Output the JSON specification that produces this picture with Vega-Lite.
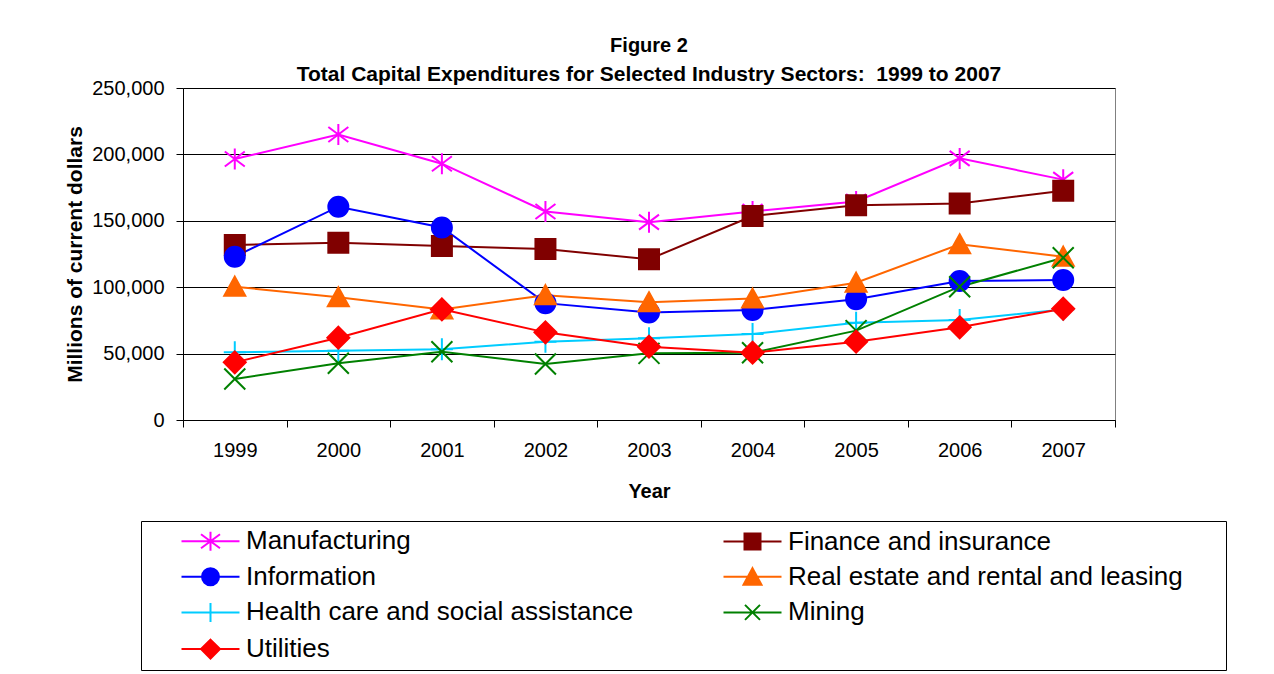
{
  "$schema": "https://vega.github.io/schema/vega-lite/v6.json",
  "width": 932,
  "height": 332,
  "autosize": {"type": "none"},
  "padding": {"left": 183, "top": 88, "right": 159, "bottom": 254},
  "background": "white",
  "title": {
    "text": "Figure 2",
    "subtitle": "Total Capital Expenditures for Selected Industry Sectors:\u00a0 1999 to 2007",
    "font": "Liberation Sans",
    "subtitleFont": "Liberation Sans",
    "fontSize": 20,
    "subtitleFontSize": 21,
    "fontWeight": "bold",
    "subtitleFontWeight": "bold",
    "color": "#000000",
    "subtitleColor": "#000000",
    "anchor": "middle",
    "offset": -7,
    "subtitlePadding": 8
  },
  "data": {
    "values": [
      {"Year": "1999", "Sector": "Manufacturing", "Value": 196500},
      {"Year": "2000", "Sector": "Manufacturing", "Value": 215000},
      {"Year": "2001", "Sector": "Manufacturing", "Value": 193000},
      {"Year": "2002", "Sector": "Manufacturing", "Value": 157000},
      {"Year": "2003", "Sector": "Manufacturing", "Value": 149000},
      {"Year": "2004", "Sector": "Manufacturing", "Value": 157000},
      {"Year": "2005", "Sector": "Manufacturing", "Value": 164500},
      {"Year": "2006", "Sector": "Manufacturing", "Value": 197000},
      {"Year": "2007", "Sector": "Manufacturing", "Value": 181000},
      {"Year": "1999", "Sector": "Finance and insurance", "Value": 131800},
      {"Year": "2000", "Sector": "Finance and insurance", "Value": 133500},
      {"Year": "2001", "Sector": "Finance and insurance", "Value": 131000},
      {"Year": "2002", "Sector": "Finance and insurance", "Value": 128800},
      {"Year": "2003", "Sector": "Finance and insurance", "Value": 121000},
      {"Year": "2004", "Sector": "Finance and insurance", "Value": 153600},
      {"Year": "2005", "Sector": "Finance and insurance", "Value": 161700},
      {"Year": "2006", "Sector": "Finance and insurance", "Value": 163000},
      {"Year": "2007", "Sector": "Finance and insurance", "Value": 172700},
      {"Year": "1999", "Sector": "Information", "Value": 123000},
      {"Year": "2000", "Sector": "Information", "Value": 160600},
      {"Year": "2001", "Sector": "Information", "Value": 145000},
      {"Year": "2002", "Sector": "Information", "Value": 88000},
      {"Year": "2003", "Sector": "Information", "Value": 81000},
      {"Year": "2004", "Sector": "Information", "Value": 82800},
      {"Year": "2005", "Sector": "Information", "Value": 91000},
      {"Year": "2006", "Sector": "Information", "Value": 104700},
      {"Year": "2007", "Sector": "Information", "Value": 105400},
      {"Year": "1999", "Sector": "Real estate and rental and leasing", "Value": 100400},
      {"Year": "2000", "Sector": "Real estate and rental and leasing", "Value": 92400},
      {"Year": "2001", "Sector": "Real estate and rental and leasing", "Value": 83300},
      {"Year": "2002", "Sector": "Real estate and rental and leasing", "Value": 94000},
      {"Year": "2003", "Sector": "Real estate and rental and leasing", "Value": 88600},
      {"Year": "2004", "Sector": "Real estate and rental and leasing", "Value": 91400},
      {"Year": "2005", "Sector": "Real estate and rental and leasing", "Value": 103400},
      {"Year": "2006", "Sector": "Real estate and rental and leasing", "Value": 132300},
      {"Year": "2007", "Sector": "Real estate and rental and leasing", "Value": 123000},
      {"Year": "1999", "Sector": "Health care and social assistance", "Value": 51000},
      {"Year": "2000", "Sector": "Health care and social assistance", "Value": 52200},
      {"Year": "2001", "Sector": "Health care and social assistance", "Value": 53200},
      {"Year": "2002", "Sector": "Health care and social assistance", "Value": 59000},
      {"Year": "2003", "Sector": "Health care and social assistance", "Value": 61500},
      {"Year": "2004", "Sector": "Health care and social assistance", "Value": 64800},
      {"Year": "2005", "Sector": "Health care and social assistance", "Value": 73300},
      {"Year": "2006", "Sector": "Health care and social assistance", "Value": 75300},
      {"Year": "2007", "Sector": "Health care and social assistance", "Value": 83300},
      {"Year": "1999", "Sector": "Mining", "Value": 30900},
      {"Year": "2000", "Sector": "Mining", "Value": 42700},
      {"Year": "2001", "Sector": "Mining", "Value": 51400},
      {"Year": "2002", "Sector": "Mining", "Value": 42200},
      {"Year": "2003", "Sector": "Mining", "Value": 50200},
      {"Year": "2004", "Sector": "Mining", "Value": 50700},
      {"Year": "2005", "Sector": "Mining", "Value": 67300},
      {"Year": "2006", "Sector": "Mining", "Value": 100400},
      {"Year": "2007", "Sector": "Mining", "Value": 122200},
      {"Year": "1999", "Sector": "Utilities", "Value": 43400},
      {"Year": "2000", "Sector": "Utilities", "Value": 62000},
      {"Year": "2001", "Sector": "Utilities", "Value": 83300},
      {"Year": "2002", "Sector": "Utilities", "Value": 66000},
      {"Year": "2003", "Sector": "Utilities", "Value": 55200},
      {"Year": "2004", "Sector": "Utilities", "Value": 50700},
      {"Year": "2005", "Sector": "Utilities", "Value": 59000},
      {"Year": "2006", "Sector": "Utilities", "Value": 69800},
      {"Year": "2007", "Sector": "Utilities", "Value": 83800}
    ]
  },
  "encoding": {
    "x": {
      "field": "Year",
      "type": "ordinal",
      "bandPosition": 0.5,
      "scale": {"type": "band", "paddingInner": 0, "paddingOuter": 0},
      "axis": {
        "title": "Year",
        "labelAngle": 0,
        "labelFont": "Liberation Sans",
        "labelFontSize": 20,
        "labelColor": "#000000",
        "labelPadding": 13,
        "tickBand": "extent",
        "tickSize": 7,
        "tickColor": "#000000",
        "domainColor": "#000000",
        "grid": false,
        "titleFont": "Liberation Sans",
        "titleFontSize": 20,
        "titleFontWeight": "bold",
        "titleColor": "#000000",
        "titlePadding": 21
      }
    },
    "y": {
      "field": "Value",
      "type": "quantitative",
      "scale": {"domain": [0, 250000], "nice": false},
      "axis": {
        "title": "Millions of current dollars",
        "values": [0, 50000, 100000, 150000, 200000, 250000],
        "format": ",.0f",
        "labelFont": "Liberation Sans",
        "labelFontSize": 20,
        "labelColor": "#000000",
        "labelPadding": 12,
        "tickSize": 7,
        "tickColor": "#000000",
        "domainColor": "#000000",
        "grid": true,
        "gridColor": "#000000",
        "gridOpacity": 1,
        "titleFont": "Liberation Sans",
        "titleFontSize": 21,
        "titleFontWeight": "bold",
        "titleColor": "#000000",
        "titlePadding": 6
      }
    }
  },
  "layer": [
    {
      "mark": {"type": "line", "strokeWidth": 2},
      "encoding": {
        "stroke": {
          "field": "Sector",
          "type": "nominal",
          "scale": {
            "domain": ["Utilities", "Mining", "Health care and social assistance", "Real estate and rental and leasing", "Information", "Finance and insurance", "Manufacturing"],
            "range": ["#FF0000", "#008000", "#00CCFF", "#FF6600", "#0000FF", "#800000", "#FF00FF"]
          },
          "legend": null
        }
      }
    },
    {
      "mark": {"type": "point", "filled": true, "opacity": 1, "size": 400, "strokeWidth": 2, "stroke": {"expr": "scale('color', datum.Sector)"}},
      "encoding": {
        "color": {
          "field": "Sector",
          "type": "nominal",
          "scale": {
            "domain": ["Manufacturing", "Finance and insurance", "Information", "Real estate and rental and leasing", "Health care and social assistance", "Mining", "Utilities"],
            "range": ["#FF00FF", "#800000", "#0000FF", "#FF6600", "#00CCFF", "#008000", "#FF0000"]
          },
          "legend": {
            "orient": "none",
            "direction": "horizontal",
            "legendX": -42,
            "legendY": 433,
            "columns": 2,
            "title": null,
            "labelFont": "Liberation Sans",
            "labelFontSize": 26,
            "labelColor": "#000000",
            "labelLimit": 1000,
            "labelOffset": 22.5,
            "symbolOffset": 49.5,
            "symbolSize": 400,
            "symbolStrokeWidth": 2,
            "symbolType": {"expr": "'M-2.9,0H2.9M46.175,0' + (datum.value === 'Manufacturing' ? 'M0,-0.95V0.95M-0.95,-0.7L0.95,0.7M-0.95,0.7L0.95,-0.7' : datum.value === 'Finance and insurance' ? 'M-0.8,-0.8H0.8V0.8H-0.8Z' : datum.value === 'Information' ? 'M0.85,0A0.85,0.85,0,1,1,-0.85,0A0.85,0.85,0,1,1,0.85,0Z' : datum.value === 'Real estate and rental and leasing' ? 'M0,-0.85L0.9,0.8H-0.9Z' : datum.value === 'Health care and social assistance' ? 'M0,-0.95V0.95M-0.95,0H0.95' : datum.value === 'Mining' ? 'M-0.75,-0.75L0.75,0.75M-0.75,0.75L0.75,-0.75' : 'M0,-0.95L0.95,0L0,0.95L-0.95,0Z')"},
            "symbolStrokeColor": {"expr": "scale('color', datum.value)"},
            "rowPadding": 8.7,
            "columnPadding": 13,
            "padding": 7,
            "strokeColor": "#000000",
            "fillColor": "#FFFFFF"
          }
        },
        "shape": {
          "field": "Sector",
          "type": "nominal",
          "scale": {
            "domain": ["Utilities", "Mining", "Health care and social assistance", "Real estate and rental and leasing", "Information", "Finance and insurance", "Manufacturing"],
            "range": [
              "M0,-1.1L1.1,0L0,1.1L-1.1,0Z",
              "M-1.05,-1.05L1.05,1.05M-1.05,1.05L1.05,-1.05",
              "M0,-1.1V1.1M-1.1,0H1.1",
              "M0,-1L1.05,0.9H-1.05Z",
              "circle",
              "M-1,-1H1V1H-1Z",
              "M0,-1.05V1.05M-1,-0.75L1,0.75M-1,0.75L1,-0.75"
            ]
          },
          "legend": null
        }
      }
    }
  ],
  "config": {
    "view": {"stroke": "#808080", "strokeWidth": 1},
    "font": "Liberation Sans"
  }
}
